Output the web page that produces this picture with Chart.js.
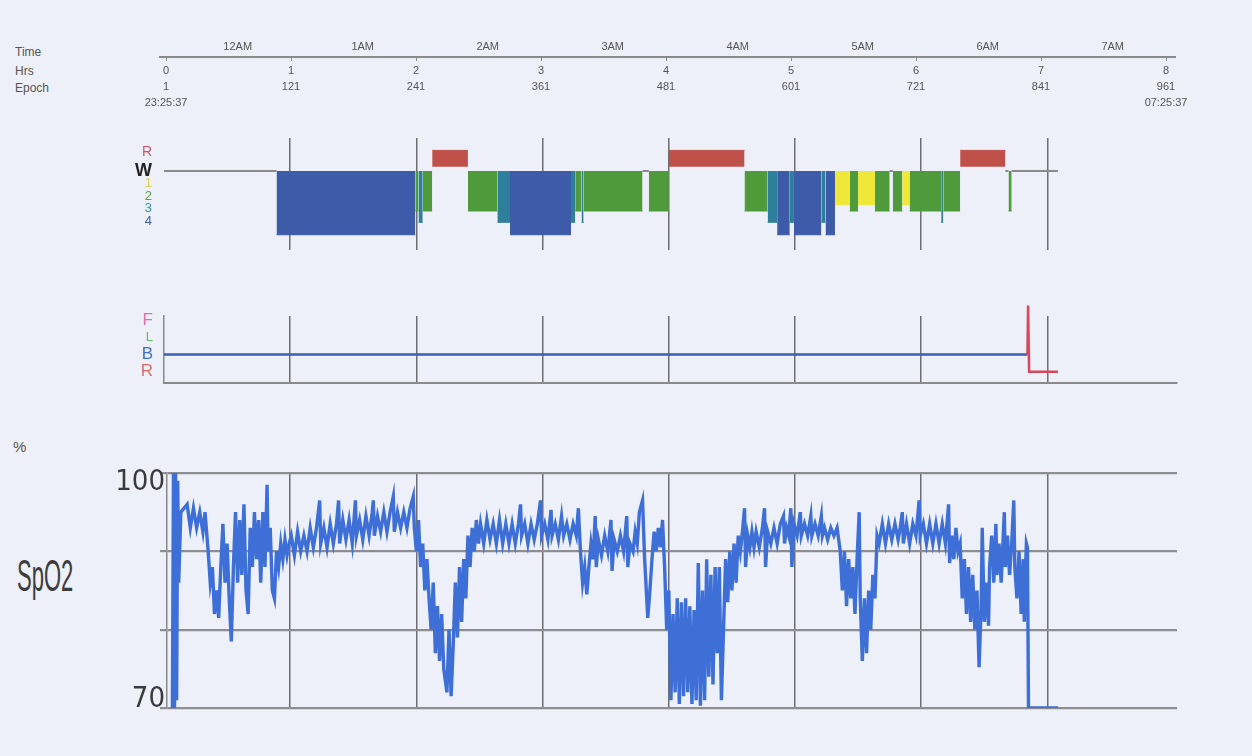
<!DOCTYPE html>
<html>
<head>
<meta charset="utf-8">
<script src="https://cdn.jsdelivr.net/npm/chart.js@4.4.0/dist/chart.umd.min.js"></script>
<style>
  body { margin: 0; width: 1252px; height: 756px; overflow: hidden; position: relative;
         background: #edeff9; font-family: 'Liberation Sans', Arial, sans-serif; color: #555; }
  canvas { position: absolute; left: 0; }
  .lbl { position: absolute; font-size: 12px; line-height: 14px; color: #555; }
  #spo2Title { position: absolute; left: 17px; top: 554px; font-size: 44px; line-height: 1;
               transform: scaleX(0.5); transform-origin: 0 0; color: #3c3c3c; }
</style>
</head>
<body>
<div class="lbl" style="left:15px;top:45px">Time</div>
<div class="lbl" style="left:15px;top:64px">Hrs</div>
<div class="lbl" style="left:15px;top:81px">Epoch</div>
<div class="lbl" style="left:13px;top:440px;font-size:15px">%</div>
<div id="spo2Title">SpO2</div>

<canvas id="timeAxis" width="1252" height="82" style="top:30px"></canvas>
<canvas id="hypno" width="1252" height="130" style="top:130px"></canvas>
<canvas id="position" width="1252" height="95" style="top:296px"></canvas>
<canvas id="spo2" width="1252" height="290" style="top:440px"></canvas>

<script>
// time axis (x is in 30 s epochs, epoch 1 = hour 0)
const hourLabels = ['0', '1', '2', '3', '4', '5', '6', '7', '8'];
const epochTicks = [1, 121, 241, 361, 481, 601, 721, 841, 961];
const clockLabels = ['23:25:37', '', '', '', '', '', '', '', '07:25:37'];
const clockTickEpochs = [69.8, 189.8, 309.8, 429.8, 549.8, 669.8, 789.8, 909.8];
const clockTickLabels = ['12AM', '1AM', '2AM', '3AM', '4AM', '5AM', '6AM', '7AM'];

// hypnogram segments
const stageStart = [1, 108, 240, 243, 247, 256, 290, 318, 330, 388, 392, 398, 400, 456, 462, 481, 553, 575, 584, 596,
  600, 626, 630, 639, 653, 661, 677, 691, 694, 703, 710, 740, 742, 758, 801, 804, 807];
const stageEnd = [108, 240, 243, 247, 256, 290, 318, 330, 388, 392, 398, 400, 456, 462, 481, 553, 575, 584, 596, 600,
  626, 630, 639, 653, 661, 677, 691, 694, 703, 710, 740, 742, 758, 801, 804, 807, 851];
const stageName = ['W', 'N4', 'N2', 'N3', 'N2', 'R', 'N2', 'N3', 'N4', 'N3', 'N2', 'N3', 'N2', 'W', 'N2', 'R', 'N2', 'N3', 'N4', 'N3',
  'N4', 'N3', 'N4', 'N1', 'N2', 'N1', 'N2', 'W', 'N2', 'N1', 'N2', 'N3', 'N2', 'R', 'W', 'N2', 'W'];
const stageTickLabels = ['R', 'W', '1', '2', '3', '4'];
const stageTickValues = [1.5, 0, -1, -2, -3, -4];

// body position (R=1, B=2, L=3, F=4; spike above F at lights on)
const posTickLabels = ['F', 'L', 'B', 'R'];
const posTickValues = [4, 3, 2, 1];
const posEpoch = [1, 822, 822.6, 823.6, 851];
const posValue = [2, 2, 4.85, 1, 1];

// SpO2 %
const spo2Epoch = [9, 10, 11, 12, 13, 14, 15, 17, 23, 26, 29, 32, 35, 38, 40, 43, 45, 47, 49, 51, 53, 55, 57, 59, 61, 63, 65,
  67, 69, 71, 73, 75, 77, 79, 81, 83, 85, 87, 89, 91, 93, 95, 97, 99, 100, 102, 104, 106, 108, 110, 112, 114, 116, 118, 120,
  122, 125, 128, 131, 134, 137, 140, 143, 146, 149, 150, 153, 156, 159, 162, 165, 167, 168, 171, 174, 177, 180, 183, 184,
  187, 190, 193, 196, 199, 200, 201, 204, 207, 210, 213, 216, 219, 220, 223, 226, 229, 232, 235, 238, 239,
  241, 243, 245, 247, 249, 251, 253, 255, 257, 259, 261, 263, 265, 267, 270, 272, 274, 276, 278, 280, 282, 284, 286, 288,
  290, 292, 294, 296, 298, 300, 302, 305, 308, 311, 314, 317, 320, 323, 326, 329, 332, 335, 338, 340, 341, 344, 347, 350,
  353, 356, 359, 360, 363, 366, 369, 370, 373, 376, 379, 381, 384, 387, 390, 393, 395, 397, 399, 401, 403, 405,
  407, 409, 411, 412, 414, 417, 420, 423, 426, 427, 429, 432, 435, 438, 441, 442, 444, 447, 449, 451, 453, 456, 458, 461, 463,
  465, 467, 469, 471, 473, 475, 477, 479, 481, 483, 485, 487, 489, 491, 493, 495, 497, 499, 501, 503, 505, 507,
  509, 511, 513, 515, 517, 519, 521, 523, 525, 527, 529, 531, 533, 535, 537, 539, 541, 543, 545,
  547, 549, 551, 553, 554, 556, 558, 560, 562, 564, 567, 570, 572, 573, 575, 578, 581, 584, 587, 590, 591, 593,
  595, 597, 598, 600, 603, 606, 607, 610, 613, 616, 617, 620, 623, 626, 627, 629, 632, 635, 638, 641,
  644, 646, 648, 650, 652, 654, 656, 658, 660, 662, 663, 665, 667, 669, 671, 673, 675, 677, 679,
  681, 684, 687, 690, 693, 696, 699, 701, 703, 704, 707, 710, 713, 716, 719, 720, 723, 726, 729, 732, 735, 738, 741, 744, 747, 748,
  750, 752, 754, 756, 758, 760, 762, 764, 766, 768, 770, 772, 774, 776, 778, 779, 781, 783, 785,
  786, 788, 790, 792, 793, 795, 797, 800, 801, 803, 805, 807, 809, 810, 812, 814, 816, 818, 819, 820, 821, 822, 823, 851];
const spo2Value = [70, 100, 70, 100, 71, 99, 86, 95, 96, 93, 95.5, 93, 95, 92.5, 95, 90, 86, 88, 82, 85, 81.5, 88, 93.5, 86, 91, 84, 78.5,
  88, 95, 86, 94, 87, 96, 85, 82, 93, 88, 95, 89, 94, 86, 95, 88, 98.5, 90, 93, 85, 84, 90, 88, 91, 89, 91.5, 89.5, 91,
  92, 89.5, 92.5, 90, 92, 90, 93, 90.5, 93, 96.5, 91, 93, 90.5, 93.5, 91, 93.5, 96.5, 91, 94, 91.5, 94, 91, 96.5, 92,
  94, 91.5, 94.5, 92, 95, 96.5, 92, 94.5, 92.5, 95, 92.5, 95, 97, 92.5, 95, 93, 95, 93, 95.5, 97, 93,
  90, 94, 88, 91, 85, 89, 84, 80, 86, 77, 83, 76, 82, 75, 72, 80, 71.5, 78, 86, 79, 88, 81, 89, 84,
  92, 88, 93, 90, 94, 91, 93.5, 91, 94, 91.5, 93.5, 91, 94, 91, 93.5, 91, 93.5, 91, 93.5, 96, 92, 93.5, 91, 93.5,
  91.5, 93.5, 96.5, 92, 93.5, 91.5, 95.3, 92, 93.5, 91.5, 94.5, 92, 93.5, 91.5, 93.5, 92, 95.5, 90, 86, 88, 84.5, 88,
  91, 89, 94.5, 88, 91.5, 89.5, 92, 90, 94, 87.5, 91.5, 90, 92, 90, 94.5, 88, 91, 90, 92.5, 91, 95, 96.5, 89, 81.5, 85,
  89, 92.5, 90, 93, 90.5, 94, 88, 80, 85, 71, 82, 72, 84, 70.5, 83.5, 71.5, 84, 72, 83, 70.5, 82.5, 71,
  88.5, 70.3, 85, 71, 89, 74, 87, 73, 88, 77, 88, 71, 80, 89, 83.5, 90, 85, 91, 86,
  92, 90, 92.5, 95.5, 88, 92, 90.5, 92.5, 90.5, 92.5, 90.5, 93, 95.5, 88, 92.5, 91, 93, 91, 93.5, 94.5, 91, 93,
  92, 95.5, 88, 93.5, 92, 95, 92, 93.5, 92, 94.5, 92, 93.5, 92, 94.5, 92, 93, 91.5, 93, 92, 93,
  90, 85, 90, 83, 89, 84, 88, 82, 89, 95, 84, 76, 84, 77, 85, 80, 87, 84, 92,
  91, 93.5, 91, 93.5, 91.5, 93.5, 91.5, 93, 95, 91, 93.5, 91, 93.5, 92, 96.5, 92, 93.5, 91, 93.5, 91, 93.5, 91, 93.5, 91, 96, 88.5,
  92, 89, 93, 90, 91, 84, 89, 82, 88, 81, 87, 80, 85, 75.2, 83, 93, 81, 86, 80.5,
  88, 92, 86, 93.5, 87, 91, 86, 95, 88, 92, 87, 91, 96.5, 88, 84, 90, 82, 89, 81, 87, 91, 90.5, 70, 70];

Chart.defaults.font.family = "'Liberation Sans', Arial, sans-serif";
Chart.defaults.color = '#555';

const narrow = "'Liberation Sans Narrow', 'DejaVu Sans Condensed', 'Liberation Sans', sans-serif";
const gridColor = '#6e6e72';
const quiet = { legend: { display: false }, tooltip: { enabled: false } };
const hourGrid = s => { s.ticks = epochTicks.slice(1, 8).map(v => ({ value: v })); };
// keep the chart area exactly where the padding puts it
const noPad = s => { s.paddingTop = 0; s.paddingBottom = 0; s.paddingLeft = 0; s.paddingRight = 0; };
const xFlat = s => { s.height = 0; noPad(s); };

// top time axis: two x scales sharing one line
new Chart(document.getElementById('timeAxis'), {
  type: 'line',
  data: { datasets: [] },
  options: {
    responsive: false, animation: false, events: [],
    layout: { padding: { left: 160, right: 77 } },
    plugins: quiet,
    scales: {
      y: { display: false, min: 0, max: 1 },
      x: {
        type: 'linear', position: 'bottom', min: -4.8, max: 969.6,
        afterBuildTicks: s => { s.ticks = epochTicks.map(v => ({ value: v })); },
        afterFit: s => { s.height = 55; noPad(s); },
        grid: { drawOnChartArea: false, tickLength: 4, color: '#8a8a8a' },
        border: { color: '#8a8a8a', width: 2 },
        ticks: {
          autoSkip: false, maxRotation: 0, padding: 2, color: '#555',
          font: { size: 11, lineHeight: '16px' },
          callback: (v, i) => {
            const lines = [hourLabels[i], String(epochTicks[i])];
            if (clockLabels[i]) lines.push(clockLabels[i]);
            return lines;
          }
        }
      },
      xTop: {
        axis: 'x', type: 'linear', position: 'top', min: -4.8, max: 969.6,
        afterBuildTicks: s => { s.ticks = clockTickEpochs.map(v => ({ value: v })); },
        afterFit: s => { s.height = 26; noPad(s); },
        grid: { drawOnChartArea: false, drawTicks: false },
        border: { display: false },
        ticks: {
          autoSkip: false, maxRotation: 0, padding: 3, color: '#555',
          font: { size: 11, lineHeight: '12px' },
          callback: (v, i) => clockTickLabels[i]
        }
      }
    }
  }
});

// hypnogram
const stageLevel = { W: 0, N1: -2.7, N2: -3.2, N3: -4.1, N4: -5.1, R: 1.65 };
const stageColor = { W: '#8a8a8a', N1: '#efe838', N2: '#4f9b3c', N3: '#2d7f9c', N4: '#3d5ba9', R: '#c0504a' };
const stageTickColors = ['#cc5566', '#222', '#d9d24a', '#5aa845', '#2f9a9a', '#3f5fb0'];

function stageSeries(name) {
  const pts = [];
  stageName.forEach((s, i) => {
    if (s !== name) return;
    pts.push({ x: stageStart[i], y: stageLevel[name] }, { x: stageEnd[i], y: stageLevel[name] }, { x: stageEnd[i], y: null });
  });
  return pts;
}

const hypnoDatasets = ['N4', 'N3', 'N2', 'N1'].map(n => ({
  data: stageSeries(n), borderColor: stageColor[n], backgroundColor: stageColor[n],
  borderWidth: 1, fill: 'origin', pointRadius: 0
}));
hypnoDatasets.push({ data: stageSeries('R'), borderColor: stageColor.R, backgroundColor: stageColor.R,
  borderWidth: 1, fill: { value: 0.35 }, pointRadius: 0 });
hypnoDatasets.push({ data: stageSeries('W'), borderColor: stageColor.W, borderWidth: 2, fill: false, pointRadius: 0 });

new Chart(document.getElementById('hypno'), {
  type: 'line',
  data: { datasets: hypnoDatasets },
  options: {
    responsive: false, animation: false, events: [],
    layout: { padding: { top: 8, bottom: 10, left: 0, right: 75 } },
    plugins: quiet,
    scales: {
      x: {
        type: 'linear', min: 1, max: 964.2,
        afterBuildTicks: hourGrid, afterFit: xFlat,
        ticks: { display: false },
        grid: { color: gridColor, lineWidth: 1.5, drawTicks: false },
        border: { display: false }
      },
      y: {
        min: -6.32, max: 2.64,
        afterBuildTicks: s => { s.ticks = stageTickValues.map(v => ({ value: v })); },
        afterFit: s => { s.width = 164; noPad(s); },
        grid: { display: false }, border: { display: false },
        ticks: {
          autoSkip: false, padding: 4,
          callback: (v, i) => stageTickLabels[i],
          color: c => stageTickColors[c.index],
          font: c => c.index === 1 ? { size: 18, weight: 'bold' } : { size: c.index === 0 ? 14 : 13 }
        }
      }
    }
  }
});

// body position
const posTickColors = ['#e070a8', '#5fbf5f', '#3a70c8', '#e06a6a'];

new Chart(document.getElementById('position'), {
  type: 'line',
  data: {
    datasets: [{
      data: posEpoch.map((e, i) => ({ x: e, y: posValue[i] })),
      borderWidth: 2.5, pointRadius: 0, fill: false, clip: false,
      borderColor: '#3a5fb8',
      segment: { borderColor: c => c.p0.parsed.x >= 822 ? '#d8485a' : '#3a5fb8' }
    }]
  },
  options: {
    responsive: false, animation: false, events: [],
    layout: { padding: { top: 20, bottom: 8, left: 0, right: 75 } },
    plugins: quiet,
    scales: {
      x: {
        type: 'linear', min: 1, max: 964.2,
        afterBuildTicks: hourGrid, afterFit: xFlat,
        ticks: { display: false },
        grid: { color: gridColor, lineWidth: 1.5, drawTicks: false },
        border: { display: true, color: '#8a8a8a', width: 2 }
      },
      y: {
        min: 0.35, max: 4.24,
        afterBuildTicks: s => { s.ticks = posTickValues.map(v => ({ value: v })); },
        afterFit: s => { s.width = 164; noPad(s); },
        grid: { display: false },
        border: { display: true, color: '#8a8a8a', width: 1.5 },
        ticks: {
          autoSkip: false, padding: 3,
          callback: (v, i) => posTickLabels[i],
          color: c => posTickColors[c.index],
          font: c => ({ size: c.index === 1 ? 13 : 17 })
        }
      }
    }
  }
});

// SpO2
new Chart(document.getElementById('spo2'), {
  type: 'line',
  data: {
    datasets: [{
      data: spo2Epoch.map((e, i) => ({ x: e, y: spo2Value[i] })),
      borderColor: '#3d6fd6', borderWidth: 3.4, pointRadius: 0, tension: 0, fill: false
    }]
  },
  options: {
    responsive: false, animation: false, events: [],
    layout: { padding: { top: 33, bottom: 22, left: 0, right: 75 } },
    plugins: quiet,
    scales: {
      x: {
        type: 'linear', min: 3.85, max: 964.2,
        afterBuildTicks: hourGrid, afterFit: xFlat,
        ticks: { display: false },
        grid: { color: gridColor, lineWidth: 1.5, drawTicks: false },
        border: { display: false }
      },
      y: {
        min: 70, max: 100,
        afterBuildTicks: s => { s.ticks = [70, 80, 90, 100].map(v => ({ value: v })); },
        afterFit: s => { s.width = 167; noPad(s); },
        grid: { color: '#8e8e92', lineWidth: 2.2, tickLength: 7 },
        border: { display: true, color: '#8a8a8a', width: 1.5 },
        ticks: {
          autoSkip: false, padding: -5, color: '#3a3a3a',
          font: { family: narrow, size: 29, lineHeight: '18px' },
          callback: v => v === 100 ? ['', '100'] : (v === 70 ? ['70', ''] : '')
        }
      }
    }
  }
});
</script>
</body>
</html>
